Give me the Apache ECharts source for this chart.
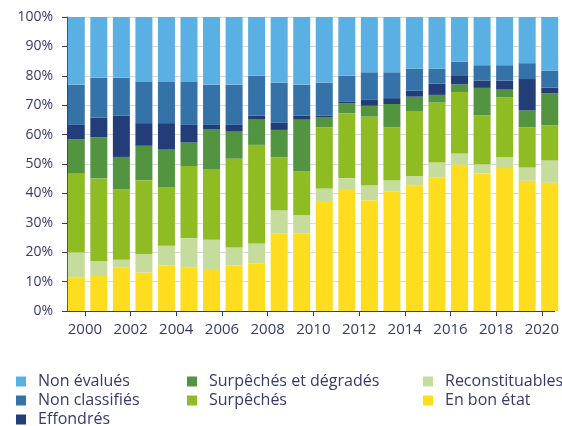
<!DOCTYPE html>
<html>
<head>
<meta charset="utf-8">
<script src="https://cdn.jsdelivr.net/npm/echarts@6/dist/echarts.min.js"></script>
<style>
html,body{margin:0;padding:0;background:#fff;}
#chart{width:562px;height:426px;}
</style>
</head>
<body>
<div id="chart"></div>
<script>
const years = ['2000','2001','2002','2003','2004','2005','2006','2007','2008','2009','2010','2011','2012','2013','2014','2015','2016','2017','2018','2019','2020','2021'];
const tickYears = [2000,2002,2004,2006,2008,2010,2012,2014,2016,2018,2020];
const yTicks = [0,10,20,30,40,50,60,70,80,90,100];

const enBonEtat       = [11.3,11.9,14.9,13.1,15.5,14.9,14.3,15.5,16.1,26.3,26.3,37.1,41.2,37.7,40.7,42.6,45.5,49.8,46.8,48.6,44.3,43.6];
const reconstituables = [8.6,5.0,2.5,6.3,6.7,9.9,9.9,6.1,6.9,8.0,6.3,4.6,4.0,5.1,3.8,3.3,5.0,3.8,3.1,3.8,4.5,7.6];
const surpeches       = [27.0,28.2,24.0,25.1,19.8,24.5,23.9,30.2,33.5,18.0,15.0,20.8,22.1,23.3,18.0,22.0,20.4,20.9,16.7,20.3,13.7,12.0];
const surpDegrades    = [11.5,14.0,11.0,11.7,12.9,8.0,13.8,9.2,8.6,9.3,17.5,3.3,3.3,3.7,7.9,5.0,2.6,2.6,9.3,2.6,5.7,10.9];
const effondres       = [4.9,6.7,14.0,7.7,9.0,6.0,1.4,2.3,1.3,2.4,1.3,0.6,0.7,2.0,2.0,2.0,3.8,3.1,2.5,3.1,10.7,1.9];
const nonClassifies   = [13.7,13.5,12.9,14.2,14.2,14.8,13.7,13.7,13.6,13.7,10.6,11.3,8.7,9.4,8.8,7.5,5.1,4.6,5.2,5.2,5.4,5.8];
const nonEvalues      = [23.0,20.7,20.7,21.9,21.9,21.9,23.0,23.0,20.0,22.3,23.0,22.3,20.0,18.8,18.8,17.6,17.6,15.2,16.4,16.4,15.7,18.2];

const seriesDefs = [
  {name:'En bon état', data:enBonEtat, color:'#fedd1f'},
  {name:'Reconstituables', data:reconstituables, color:'#c5dc9c'},
  {name:'Surpêchés', data:surpeches, color:'#8fbc22'},
  {name:'Surpêchés et dégradés', data:surpDegrades, color:'#529440'},
  {name:'Effondrés', data:effondres, color:'#223d78'},
  {name:'Non classifiés', data:nonClassifies, color:'#3472a8'},
  {name:'Non évalués', data:nonEvalues, color:'#5aafe3'}
];

const navy = '#363a6b';
const font = 'Open Sans';
const legendBase = {
  orient:'vertical', top:372, padding:0, itemGap:0,
  itemWidth:10, itemHeight:10, icon:'rect', selectedMode:false,
  textStyle:{color:navy, fontSize:16, fontFamily:font, lineHeight:19, padding:[0,0,0,7]}
};

const chart = echarts.init(document.getElementById('chart'), null, {renderer:'canvas'});
chart.setOption({
  animation:false,
  backgroundColor:'#fff',
  textStyle:{fontFamily:font},
  grid:[
    {left:67, right:4, top:17, bottom:115, containLabel:false},
    {left:65, right:1, top:17, bottom:115, containLabel:false}
  ],
  xAxis:[
    {type:'value', gridIndex:0, min:1999.2174, max:2020.5652,
     axisLine:{show:true, lineStyle:{color:navy, width:1}},
     axisTick:{show:true, length:5, lineStyle:{color:navy}, customValues:tickYears},
     axisLabel:{color:navy, fontSize:15, fontFamily:font, margin:11, customValues:tickYears, formatter:v=>String(v)},
     splitLine:{show:false}},
    {type:'category', gridIndex:1, data:years, show:false}
  ],
  yAxis:[
    {type:'value', gridIndex:0, min:0, max:100, interval:10,
     axisLine:{show:true, lineStyle:{color:navy}},
     axisTick:{show:true, length:5, lineStyle:{color:navy}},
     axisLabel:{color:navy, fontSize:14, fontFamily:font, margin:14, formatter:'{value}%'},
     splitLine:{show:true, lineStyle:{color:'#d8d8e6', width:1}}},
    {type:'value', gridIndex:1, min:0, max:100, show:false, splitLine:{show:false}}
  ],
  legend:[
    Object.assign({}, legendBase, {left:16, data:['Non évalués','Non classifiés']}),
    Object.assign({}, legendBase, {left:16, top:410, data:['Effondrés']}),
    Object.assign({}, legendBase, {left:187, data:['Surpêchés et dégradés','Surpêchés']}),
    Object.assign({}, legendBase, {left:423, data:['Reconstituables','En bon état']})
  ],
  series: seriesDefs.map(s => ({
    name:s.name, type:'bar', stack:'total', xAxisIndex:1, yAxisIndex:1,
    barWidth:17, data:s.data, itemStyle:{color:s.color}
  }))
});
</script>
</body>
</html>
